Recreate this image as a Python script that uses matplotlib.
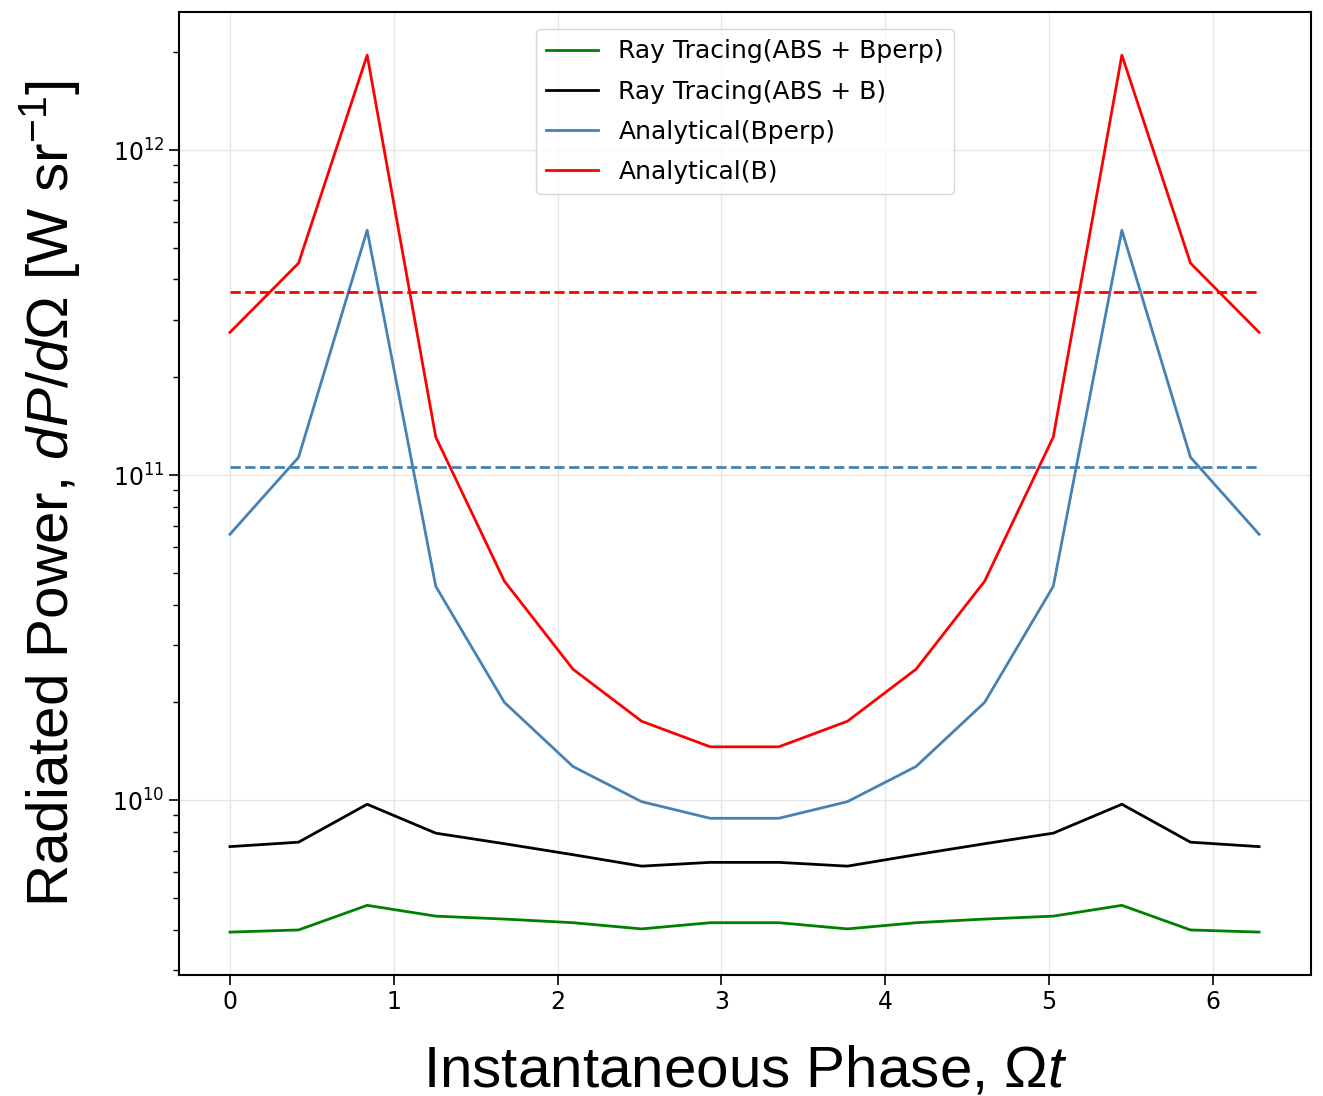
import numpy as np
import matplotlib
matplotlib.use("Agg")
import matplotlib.pyplot as plt

# fase instantanea: 16 pontos entre 0 e 2pi
phase = np.linspace(0, 2 * np.pi, 16)

# valores (W sr^-1)
ray_bperp = [3.93e9, 3.99e9, 4.75e9, 4.40e9, 4.31e9, 4.20e9, 4.02e9, 4.20e9,
             4.20e9, 4.02e9, 4.20e9, 4.31e9, 4.40e9, 4.75e9, 3.99e9, 3.93e9]
ray_b = [7.20e9, 7.43e9, 9.72e9, 7.92e9, 7.35e9, 6.80e9, 6.27e9, 6.44e9,
         6.44e9, 6.27e9, 6.80e9, 7.35e9, 7.92e9, 9.72e9, 7.43e9, 7.20e9]
anal_bperp = [6.58e10, 1.135e11, 5.67e11, 4.55e10, 2.00e10, 1.27e10, 9.9e9, 8.8e9,
              8.8e9, 9.9e9, 1.27e10, 2.00e10, 4.55e10, 5.67e11, 1.135e11, 6.58e10]
anal_b = [2.75e11, 4.49e11, 1.96e12, 1.31e11, 4.72e10, 2.53e10, 1.75e10, 1.46e10,
          1.46e10, 1.75e10, 2.53e10, 4.72e10, 1.31e11, 1.96e12, 4.49e11, 2.75e11]

# medias (linhas tracejadas)
mean_bperp = 1.06e11
mean_b = 3.66e11

plt.rcParams['mathtext.fontset'] = 'custom'
plt.rcParams['mathtext.it'] = 'Liberation Sans:italic'
plt.rcParams['mathtext.rm'] = 'Liberation Sans'

fig = plt.figure(figsize=(13.23, 10.96), dpi=100)
ax = fig.add_axes([179 / 1323, 1 - 975 / 1096, (1311 - 179) / 1323, (975 - 12) / 1096])

ax.plot(phase, ray_bperp, color="green", lw=2, label="Ray Tracing(ABS + Bperp)")
ax.plot(phase, ray_b, color="black", lw=2, label="Ray Tracing(ABS + B)")
ax.plot(phase, anal_bperp, color="steelblue", lw=2, label="Analytical(Bperp)")
ax.plot(phase, anal_b, color="red", lw=2, label="Analytical(B)")

ax.plot(phase, [mean_bperp] * len(phase), '--', color="steelblue", lw=2)
ax.plot(phase, [mean_b] * len(phase), '--', color="red", lw=2)

ax.set_yscale("log")
ax.set_ylim(2.9e9, 2.66e12)
ax.set_xlim(-0.311, 6.6)
ax.grid(True, which="major", color="#e6e6e6", lw=1)

ax.tick_params(axis="both", which="major", labelsize=17, length=7, width=1.2)
ax.tick_params(axis="y", which="minor", length=4, width=1)
for s in ax.spines.values():
    s.set_linewidth(1.5)

ax.set_xlabel(r"Instantaneous Phase, $\mathit{\Omega t}$", fontsize=42,
              family="Liberation Sans", labelpad=22)
ax.set_ylabel(r"Radiated Power, $\mathit{dP/d\Omega}$ [W sr$^{\rm{-1}}$]", fontsize=42,
              family="Liberation Sans", labelpad=22)

leg = ax.legend(loc="upper center", fontsize=18, frameon=True, handlelength=2.1,
                labelspacing=0.65, bbox_to_anchor=(0.5, 0.995))

fig.savefig("out.png", dpi=100)
